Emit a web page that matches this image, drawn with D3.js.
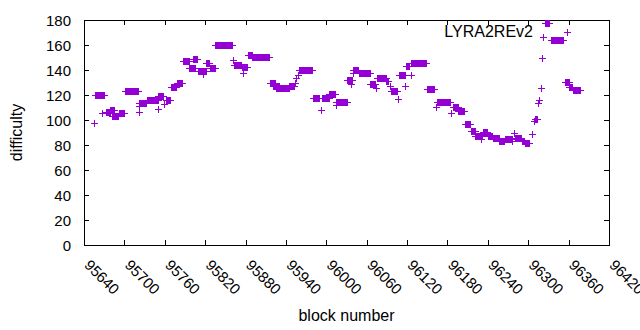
<!DOCTYPE html>
<html><head><meta charset="utf-8">
<script src="https://cdn.jsdelivr.net/npm/d3@7"></script>
<style>
body{margin:0;background:#fff}
text{font-family:"Liberation Sans",Arial,sans-serif;fill:#000}
</style>
</head><body>
<svg id="chart" width="640" height="330"></svg>
<script>
// ---- data ----
const seriesName = "LYRA2REv2";
const xTicks = [95640,95700,95760,95820,95880,95940,96000,96060,96120,96180,96240,96300,96360,96420];
const yTicks = [0,20,40,60,80,100,120,140,160,180];
// runs of consecutive blocks sharing a difficulty (start block, end block, difficulty)
const runStart = [95655,95657,95668,95673,95680,95683,95688,95692,95701,95722,95722,95723,95734,95750,95751,95760,95762,95770,95779,95788,95796,95803,95810,95818,95822,95828,95835,95862,95863,95875,95877,95884,95891,95917,95922,95926,95937,95946,95954,95956,95958,95960,95981,95993,95994,96005,96015,96015,96032,96038,96040,96041,96049,96066,96075,96076,96090,96096,96097,96107,96109,96118,96119,96126,96127,96150,96163,96165,96186,96189,96197,96207,96215,96222,96231,96233,96241,96248,96258,96266,96277,96280,96281,96291,96296,96306,96310,96311,96315,96316,96320,96321,96323,96325,96335,96355,96362,96367];
const runEnd   = [95655,95671,95668,95679,95685,95691,95688,95700,95721,95722,95722,95733,95750,95750,95758,95760,95768,95778,95787,95796,95805,95809,95822,95818,95827,95835,95861,95862,95874,95883,95877,95890,95916,95925,95931,95936,95945,95952,95954,95956,95958,95980,95990,95993,96004,96014,96031,96015,96039,96038,96040,96048,96065,96073,96075,96089,96093,96096,96106,96107,96117,96118,96124,96126,96149,96161,96163,96185,96186,96196,96206,96214,96221,96232,96231,96240,96247,96257,96265,96277,96277,96280,96290,96295,96302,96306,96310,96314,96315,96316,96320,96321,96323,96331,96353,96361,96366,96377];
const runDiff  = [97,120,105,106,108,103,102.5,105.5,123,106,110.5,113,116,108.5,118.6,112.5,116,126,129,146.5,141.3,148.3,138.5,136.8,145.6,141.3,160,148,144,141.7,137.3,151.6,150,129,126.6,125,125.5,127,129,133.3,136,139.5,117,108,117,120.6,113.8,112,132,128.6,137.3,140,137.6,128.3,125.3,133.3,131,126.7,122.7,116.8,136,127.2,142.7,136,145.3,124.8,110,114.2,105.3,110,107,96.5,90.5,86.5,84.5,90,87,85,83,84.5,82.5,89,85,82.5,81,88.8,98.7,100.5,113.3,116,125.3,149.3,166,177.5,163.3,130,126,123.5];

// ---- build point table ----
const points = [];
runStart.forEach((s, i) => {
  for (let b = s; b <= runEnd[i]; b++) points.push({block: b, diff: runDiff[i]});
});

// ---- layout ----
const svg = d3.select("#chart");
const L = 84, R = 609, T = 20, B = 245;
const color = "#9400D3";
const x = d3.scaleLinear().domain([95640, 96420]).range([L, R]);
const y = d3.scaleLinear().domain([0, 180]).range([B, T]);

// axes (ticks inward, mirrored)
const gB = svg.append("g").attr("transform", `translate(0,${B})`)
  .call(d3.axisBottom(x).tickValues(xTicks).tickSizeInner(-5).tickSizeOuter(0).tickFormat(d3.format("d")));
const gT = svg.append("g").attr("transform", `translate(0,${T})`)
  .call(d3.axisTop(x).tickValues(xTicks).tickSizeInner(-5).tickSizeOuter(0).tickFormat(""));
const gL = svg.append("g").attr("transform", `translate(${L},0)`)
  .call(d3.axisLeft(y).tickValues(yTicks).tickSizeInner(-5).tickSizeOuter(0));
const gR = svg.append("g").attr("transform", `translate(${R},0)`)
  .call(d3.axisRight(y).tickValues(yTicks).tickSizeInner(-5).tickSizeOuter(0).tickFormat(""));
[gB, gT, gL, gR].forEach(g => {
  g.select(".domain").remove();
  g.selectAll(".tick line").attr("stroke", "#000").attr("shape-rendering", "crispEdges");
});
gL.selectAll(".tick text").attr("x", -13).attr("dy", "0.35em")
  .style("font-size", "15px").style("font-family", "'Liberation Sans',Arial,sans-serif");
gB.selectAll(".tick text")
  .attr("x", null).attr("y", null).attr("dy", null)
  .attr("text-anchor", "start")
  .attr("transform", "translate(-1,21) rotate(45)")
  .style("font-size", "15px").style("font-family", "'Liberation Sans',Arial,sans-serif");

// border
svg.append("rect").attr("x", L).attr("y", T).attr("width", R - L).attr("height", B - T)
  .attr("fill", "none").attr("stroke", "#000").attr("shape-rendering", "crispEdges");

// points
const plus = "M-3.5,0H3.5M0,-3.5V3.5";
svg.append("g").selectAll("path").data(points).join("path")
  .attr("d", plus)
  .attr("transform", d => `translate(${x(d.block)},${y(d.diff)})`)
  .attr("stroke", color).attr("stroke-width", 1).attr("fill", "none")
  .attr("shape-rendering", "crispEdges");

// axis titles
svg.append("text").attr("transform", `translate(22,${(T + B) / 2}) rotate(-90)`)
  .attr("text-anchor", "middle").style("font-size", "16px").text("difficulty");
svg.append("text").attr("x", (L + R) / 2).attr("y", 321)
  .attr("text-anchor", "middle").style("font-size", "16px").text("block number");

// legend
svg.append("text").attr("x", 533).attr("y", 37).attr("text-anchor", "end")
  .style("font-size", "16px").text(seriesName);
svg.append("path").attr("d", plus).attr("transform", "translate(567,32.5)")
  .attr("stroke", color).attr("stroke-width", 1).attr("fill", "none")
  .attr("shape-rendering", "crispEdges");
</script>
</body></html>
